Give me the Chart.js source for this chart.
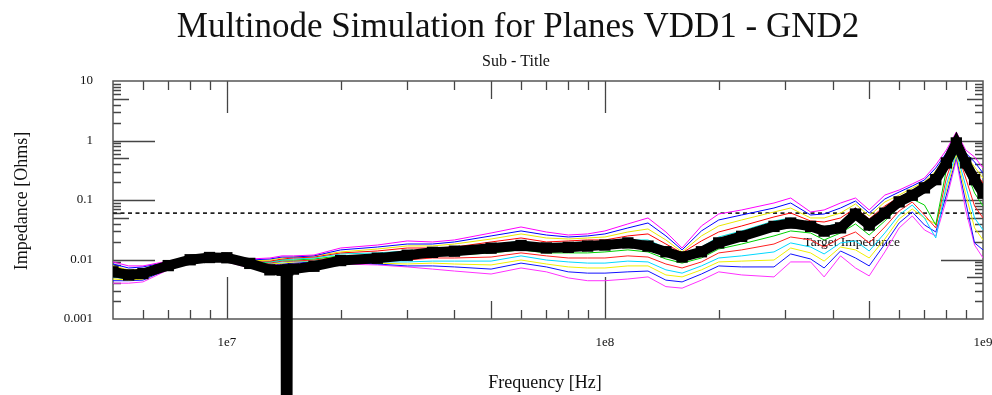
<!DOCTYPE html>
<html>
<head>
<meta charset="utf-8">
<script src="https://cdn.jsdelivr.net/npm/chart.js@4.4.0/dist/chart.umd.min.js"></script>
<style>
  html, body { margin: 0; padding: 0; background: #fff; }
</style>
</head>
<body>
<canvas id="impChart" width="992" height="395"></canvas>
<script>
// frequency points (Hz)
const freqHz = [5e6, 5.5e6, 6e6, 7e6, 8e6, 9e6, 1e7, 1.15e7, 1.3e7, 1.4e7,
  1.43e7, 1.44e7, 1.45e7, 1.5e7, 1.7e7, 2e7, 2.5e7, 3e7, 3.5e7, 4e7, 5e7, 6e7,
  7e7, 8e7, 9e7, 1e8, 1.15e8, 1.3e8, 1.45e8, 1.6e8, 1.8e8, 2e8,
  2.3e8, 2.8e8, 3.1e8, 3.5e8, 3.8e8, 4.2e8, 4.6e8, 5e8, 5.5e8, 6e8,
  6.5e8, 7e8, 7.5e8, 8e8, 8.5e8, 9e8, 9.5e8, 1e9];

// averaged impedance (Ohms), thick black trace
const avgZ = [0.0062, 0.0055, 0.0058, 0.0079, 0.0099, 0.0108, 0.0107, 0.0086, 0.0067, 0.0066,
  0.0066, 1e-12, 0.0067, 0.0069, 0.0077, 0.0096, 0.0105, 0.0118, 0.0132, 0.0138, 0.0155, 0.0172,
  0.0156, 0.016, 0.0168, 0.0175, 0.019, 0.0168, 0.0135, 0.011, 0.0135, 0.019,
  0.0245, 0.036, 0.041, 0.036, 0.03, 0.034, 0.058, 0.038, 0.06, 0.093,
  0.12, 0.16, 0.22, 0.42, 0.91, 0.42, 0.22, 0.13];

// individual node traces (Ohms)
const node1 = [0.0091, 0.0078, 0.0078, 0.0094, 0.011, 0.0119, 0.0119, 0.0102, 0.0106, 0.0115,
  null, null, null, 0.0115, 0.0119, 0.0156, 0.0175, 0.0205, 0.0197, 0.0213, 0.0279, 0.0352,
  0.029, 0.0258, 0.0269, 0.0302, 0.0396, 0.0499, 0.029, 0.0156, 0.0366, 0.0582,
  0.068, 0.089, 0.108, 0.0629, 0.068, 0.089, 0.108, 0.068, 0.121, 0.147,
  0.186, 0.234, 0.388, 0.693, 1.389, 0.693, 0.529, 0.346];
const node2 = [0.0084, 0.0072, 0.0075, 0.0091, 0.011, 0.0119, 0.0119, 0.0098, 0.0102, 0.011,
  null, null, null, 0.011, 0.0115, 0.0145, 0.0162, 0.0182, 0.0182, 0.0197, 0.0249, 0.0302,
  0.0258, 0.0239, 0.0249, 0.0269, 0.0339, 0.0411, 0.0249, 0.0145, 0.0302, 0.0462,
  0.056, 0.0734, 0.089, 0.056, 0.0582, 0.0734, 0.0962, 0.0605, 0.104, 0.136,
  0.172, 0.217, 0.346, 0.617, 1.286, 0.617, 0.436, 0.284];
const node3 = [0.0078, 0.0067, 0.0069, 0.0087, 0.0106, 0.0115, 0.0115, 0.0094, 0.0098, 0.0106,
  null, null, null, 0.011, 0.0115, 0.0134, 0.015, 0.0169, 0.0169, 0.0182, 0.0221, 0.0269,
  0.023, 0.0221, 0.023, 0.0239, 0.029, 0.0326, 0.0213, 0.0134, 0.0249, 0.0366,
  0.0462, 0.0629, 0.0734, 0.0499, 0.0499, 0.0605, 0.0857, 0.0539, 0.0925, 0.121,
  0.159, 0.201, 0.307, 0.571, 1.19, 0.571, 0.359, 0.234];
const node4 = [0.0075, 0.0064, 0.0067, 0.0087, 0.0106, 0.0115, 0.0115, 0.0094, 0.0094, 0.0102,
  null, null, null, 0.0106, 0.011, 0.0129, 0.0139, 0.0156, 0.0156, 0.0162, 0.0197, 0.023,
  0.0197, 0.0205, 0.0213, 0.0213, 0.0249, 0.0269, 0.0182, 0.0129, 0.0205, 0.029,
  0.0366, 0.0519, 0.0605, 0.0444, 0.0427, 0.0499, 0.0734, 0.048, 0.0793, 0.112,
  0.142, 0.186, 0.274, 0.509, 1.102, 0.509, 0.307, 0.193];
const node5 = [0.0069, 0.0059, 0.0062, 0.0084, 0.0102, 0.011, 0.011, 0.0091, 0.0091, 0.0098,
  null, null, null, 0.0102, 0.0106, 0.0124, 0.0129, 0.0139, 0.0145, 0.015, 0.0175, 0.0205,
  0.0175, 0.0182, 0.019, 0.019, 0.0213, 0.0213, 0.0156, 0.0119, 0.0162, 0.0239,
  0.0302, 0.0444, 0.0499, 0.0396, 0.0352, 0.0411, 0.0654, 0.0427, 0.068, 0.1,
  0.131, 0.172, 0.244, 0.471, 0.981, 0.471, 0.253, 0.159];
const node6 = [0.0059, 0.0051, 0.0055, 0.0078, 0.0098, 0.0106, 0.0106, 0.0084, 0.0091, 0.0098,
  null, null, null, 0.0098, 0.0102, 0.0115, 0.0098, 0.0106, 0.0119, 0.0119, 0.0129, 0.0145,
  0.0129, 0.0129, 0.0129, 0.0134, 0.0145, 0.0134, 0.0102, 0.0087, 0.0106, 0.015,
  0.0182, 0.0249, 0.0302, 0.0279, 0.0213, 0.0279, 0.0396, 0.0258, 0.0444, 0.0763,
  0.104, 0.0824, 0.0381, 0.32, 0.809, 0.32, 0.131, 0.0793];
const node7 = [0.0055, 0.0049, 0.0053, 0.0075, 0.0098, 0.0106, 0.0102, 0.0081, 0.0087, 0.0094,
  null, null, null, 0.0094, 0.0098, 0.011, 0.0094, 0.0098, 0.0106, 0.0106, 0.011, 0.0129,
  0.0115, 0.0106, 0.0106, 0.0106, 0.0115, 0.011, 0.0084, 0.0072, 0.0091, 0.0129,
  0.0145, 0.0182, 0.0239, 0.0213, 0.0162, 0.023, 0.029, 0.019, 0.0352, 0.0654,
  0.0925, 0.056, 0.0339, 0.234, 0.72, 0.234, 0.0793, 0.0499];
const node8 = [0.0051, 0.0047, 0.0049, 0.0072, 0.0094, 0.0102, 0.0098, 0.0078, 0.0087, 0.0091,
  null, null, null, 0.0094, 0.0094, 0.0106, 0.0091, 0.0091, 0.0094, 0.0094, 0.0094, 0.0115,
  0.0098, 0.0091, 0.0087, 0.0087, 0.0094, 0.0091, 0.0067, 0.0059, 0.0078, 0.0106,
  0.0115, 0.0134, 0.019, 0.0162, 0.0124, 0.019, 0.0205, 0.0139, 0.0279, 0.056,
  0.0824, 0.0499, 0.023, 0.179, 0.641, 0.172, 0.0499, 0.0314];
const node9 = [0.0047, 0.0045, 0.0047, 0.0072, 0.0091, 0.0098, 0.0098, 0.0078, 0.0084, 0.0087,
  null, null, null, 0.0091, 0.0094, 0.0102, 0.0087, 0.0084, 0.0087, 0.0084, 0.0081, 0.0098,
  0.0084, 0.0075, 0.0072, 0.0072, 0.0078, 0.0078, 0.0055, 0.0051, 0.0067, 0.0091,
  0.0094, 0.0098, 0.0156, 0.0129, 0.0094, 0.0162, 0.0145, 0.0106, 0.0221, 0.048,
  0.0706, 0.0499, 0.0396, 0.147, 0.571, 0.126, 0.0339, 0.0213];
const node10 = [0.0044, 0.0044, 0.0045, 0.0069, 0.0091, 0.0098, 0.0094, 0.0075, 0.0084, 0.0084,
  null, null, null, 0.0087, 0.0091, 0.0091, 0.0084, 0.0078, 0.0078, 0.0075, 0.0069, 0.0087,
  0.0075, 0.0062, 0.0059, 0.0059, 0.0062, 0.0064, 0.0045, 0.0042, 0.0057, 0.0078,
  0.0075, 0.0075, 0.0124, 0.0102, 0.0072, 0.0139, 0.0106, 0.0078, 0.0182, 0.0411,
  0.0629, 0.0381, 0.029, 0.121, 0.529, 0.0925, 0.019, 0.0145];
const node11 = [0.004, 0.004, 0.0042, 0.0067, 0.0087, 0.0094, 0.0091, 0.0072, 0.0084, 0.0081,
  null, null, null, 0.0084, 0.0087, 0.0084, 0.0081, 0.0075, 0.0069, 0.0064, 0.0057, 0.0072,
  0.0062, 0.0049, 0.0044, 0.0044, 0.0047, 0.0051, 0.0035, 0.0033, 0.0045, 0.0062,
  0.0055, 0.0051, 0.0091, 0.0091, 0.0051, 0.0115, 0.0072, 0.0053, 0.0134, 0.0339,
  0.0539, 0.0314, 0.0249, 0.1, 0.471, 0.068, 0.0175, 0.0106];

const nodeTraces = [node1, node2, node3, node4, node5, node6, node7, node8, node9, node10, node11];
const nodeColors = ['#ff00ff', '#0000ff', '#e8e800', '#ff0000', '#00e0e0', '#00d000',
  '#ff2020', '#00d8ff', '#f0f000', '#1010ff', '#ff30ff'];

// dashed target level (Ohms) and its span
const targetZ = 0.06;
const targetSpan = [5e6, 1e9];

// axis tick values and labels
const yTickValues = [0.001, 0.01, 0.1, 1, 10];
const yTickLabels = ['0.001', '0.01', '0.1', '1', '10'];
const xTickValues = [1e7, 1e8, 1e9];
const xTickLabels = ['1e7', '1e8', '1e9'];

const SERIF = '"Liberation Serif", "DejaVu Serif", serif';

const toPoints = vals => freqHz.map((f, i) => ({ x: f, y: vals[i] }));

const datasets = [
  {
    label: 'Average',
    data: toPoints(avgZ),
    borderColor: '#000',
    backgroundColor: '#000',
    borderWidth: 10,
    pointStyle: 'rect',
    pointRadius: 8,
    pointBorderWidth: 0,
    clip: { left: 0, top: 0, right: 0, bottom: 80 }
  },
  ...nodeTraces.map((vals, i) => ({
    label: 'Node ' + (i + 1),
    data: toPoints(vals),
    borderColor: nodeColors[i],
    borderWidth: 1,
    pointRadius: 0,
    spanGaps: true
  })),
  {
    label: 'Target',
    data: targetSpan.map(f => ({ x: f, y: targetZ })),
    borderColor: '#222',
    borderWidth: 1.8,
    borderDash: [4, 3.5],
    pointRadius: 0
  }
];

// frame, inward tick marks and all the text around the plot
const frameAndText = {
  id: 'frameAndText',
  beforeDatasetsDraw(chart) {
    const { ctx, chartArea: a, scales: { x, y } } = chart;
    ctx.save();
    ctx.strokeStyle = '#444';
    ctx.lineWidth = 1.3;
    ctx.beginPath();
    for (const d of [0.001, 0.01, 0.1, 1]) {
      for (let m = 2; m < 10; m++) {
        const py = Math.round(y.getPixelForValue(d * m)) + 0.5;
        const len = m === 5 ? 16 : 8;
        ctx.moveTo(a.left, py); ctx.lineTo(a.left + len, py);
        ctx.moveTo(a.right, py); ctx.lineTo(a.right - len, py);
      }
    }
    yTickValues.forEach(v => {
      if (v <= y.min || v >= y.max) return;
      const py = Math.round(y.getPixelForValue(v)) + 0.5;
      ctx.moveTo(a.left, py); ctx.lineTo(a.left + 42, py);
      ctx.moveTo(a.right, py); ctx.lineTo(a.right - 42, py);
    });
    for (const d of [1e6, 1e7, 1e8]) {
      for (let m = 2; m < 10; m++) {
        const v = d * m;
        if (v <= x.min || v >= x.max) continue;
        const px = Math.round(x.getPixelForValue(v)) + 0.5;
        const len = m === 5 ? 18 : 9;
        ctx.moveTo(px, a.bottom); ctx.lineTo(px, a.bottom - len);
        ctx.moveTo(px, a.top); ctx.lineTo(px, a.top + len);
      }
    }
    xTickValues.forEach(v => {
      if (v <= x.min || v >= x.max) return;
      const px = Math.round(x.getPixelForValue(v)) + 0.5;
      ctx.moveTo(px, a.bottom); ctx.lineTo(px, a.bottom - 42);
      ctx.moveTo(px, a.top); ctx.lineTo(px, a.top + 32);
    });
    ctx.stroke();

    ctx.strokeStyle = '#555';
    ctx.lineWidth = 1.5;
    ctx.strokeRect(a.left, a.top, a.right - a.left, a.bottom - a.top);

    // curve annotation
    ctx.fillStyle = '#111';
    ctx.font = '13.5px ' + SERIF;
    ctx.textAlign = 'left';
    ctx.textBaseline = 'middle';
    ctx.fillText('Target Impedance', x.getPixelForValue(3.35e8), y.getPixelForValue(0.019));
    ctx.restore();
  },
  afterDraw(chart) {
    const { ctx, chartArea: a, scales: { x, y } } = chart;
    ctx.save();
    ctx.fillStyle = '#111';

    ctx.font = '13px ' + SERIF;
    ctx.textAlign = 'right';
    ctx.textBaseline = 'middle';
    yTickValues.forEach((v, i) => ctx.fillText(yTickLabels[i], a.left - 20, y.getPixelForValue(v)));

    ctx.textAlign = 'center';
    xTickValues.forEach((v, i) => ctx.fillText(xTickLabels[i], x.getPixelForValue(v), a.bottom + 24));

    ctx.font = '18px ' + SERIF;
    ctx.fillText('Frequency [Hz]', 545, 383);

    ctx.save();
    ctx.translate(22, 201);
    ctx.rotate(-Math.PI / 2);
    ctx.fillText('Impedance [Ohms]', 0, 0);
    ctx.restore();

    ctx.font = '16px ' + SERIF;
    ctx.fillText('Sub - Title', 516, 62);

    ctx.font = '35px ' + SERIF;
    ctx.fillText('Multinode Simulation for Planes VDD1 - GND2', 518, 28);
    ctx.restore();
  }
};

new Chart(document.getElementById('impChart').getContext('2d'), {
  type: 'line',
  data: { datasets },
  plugins: [frameAndText],
  options: {
    responsive: false,
    animation: false,
    layout: { padding: { left: 113, right: 9, top: 81, bottom: 76 } },
    plugins: { legend: { display: false }, tooltip: { enabled: false } },
    elements: { line: { tension: 0 } },
    scales: {
      x: { type: 'logarithmic', min: 5e6, max: 1e9, display: false },
      y: { type: 'logarithmic', min: 0.001, max: 10, display: false }
    }
  }
});
</script>
</body>
</html>
